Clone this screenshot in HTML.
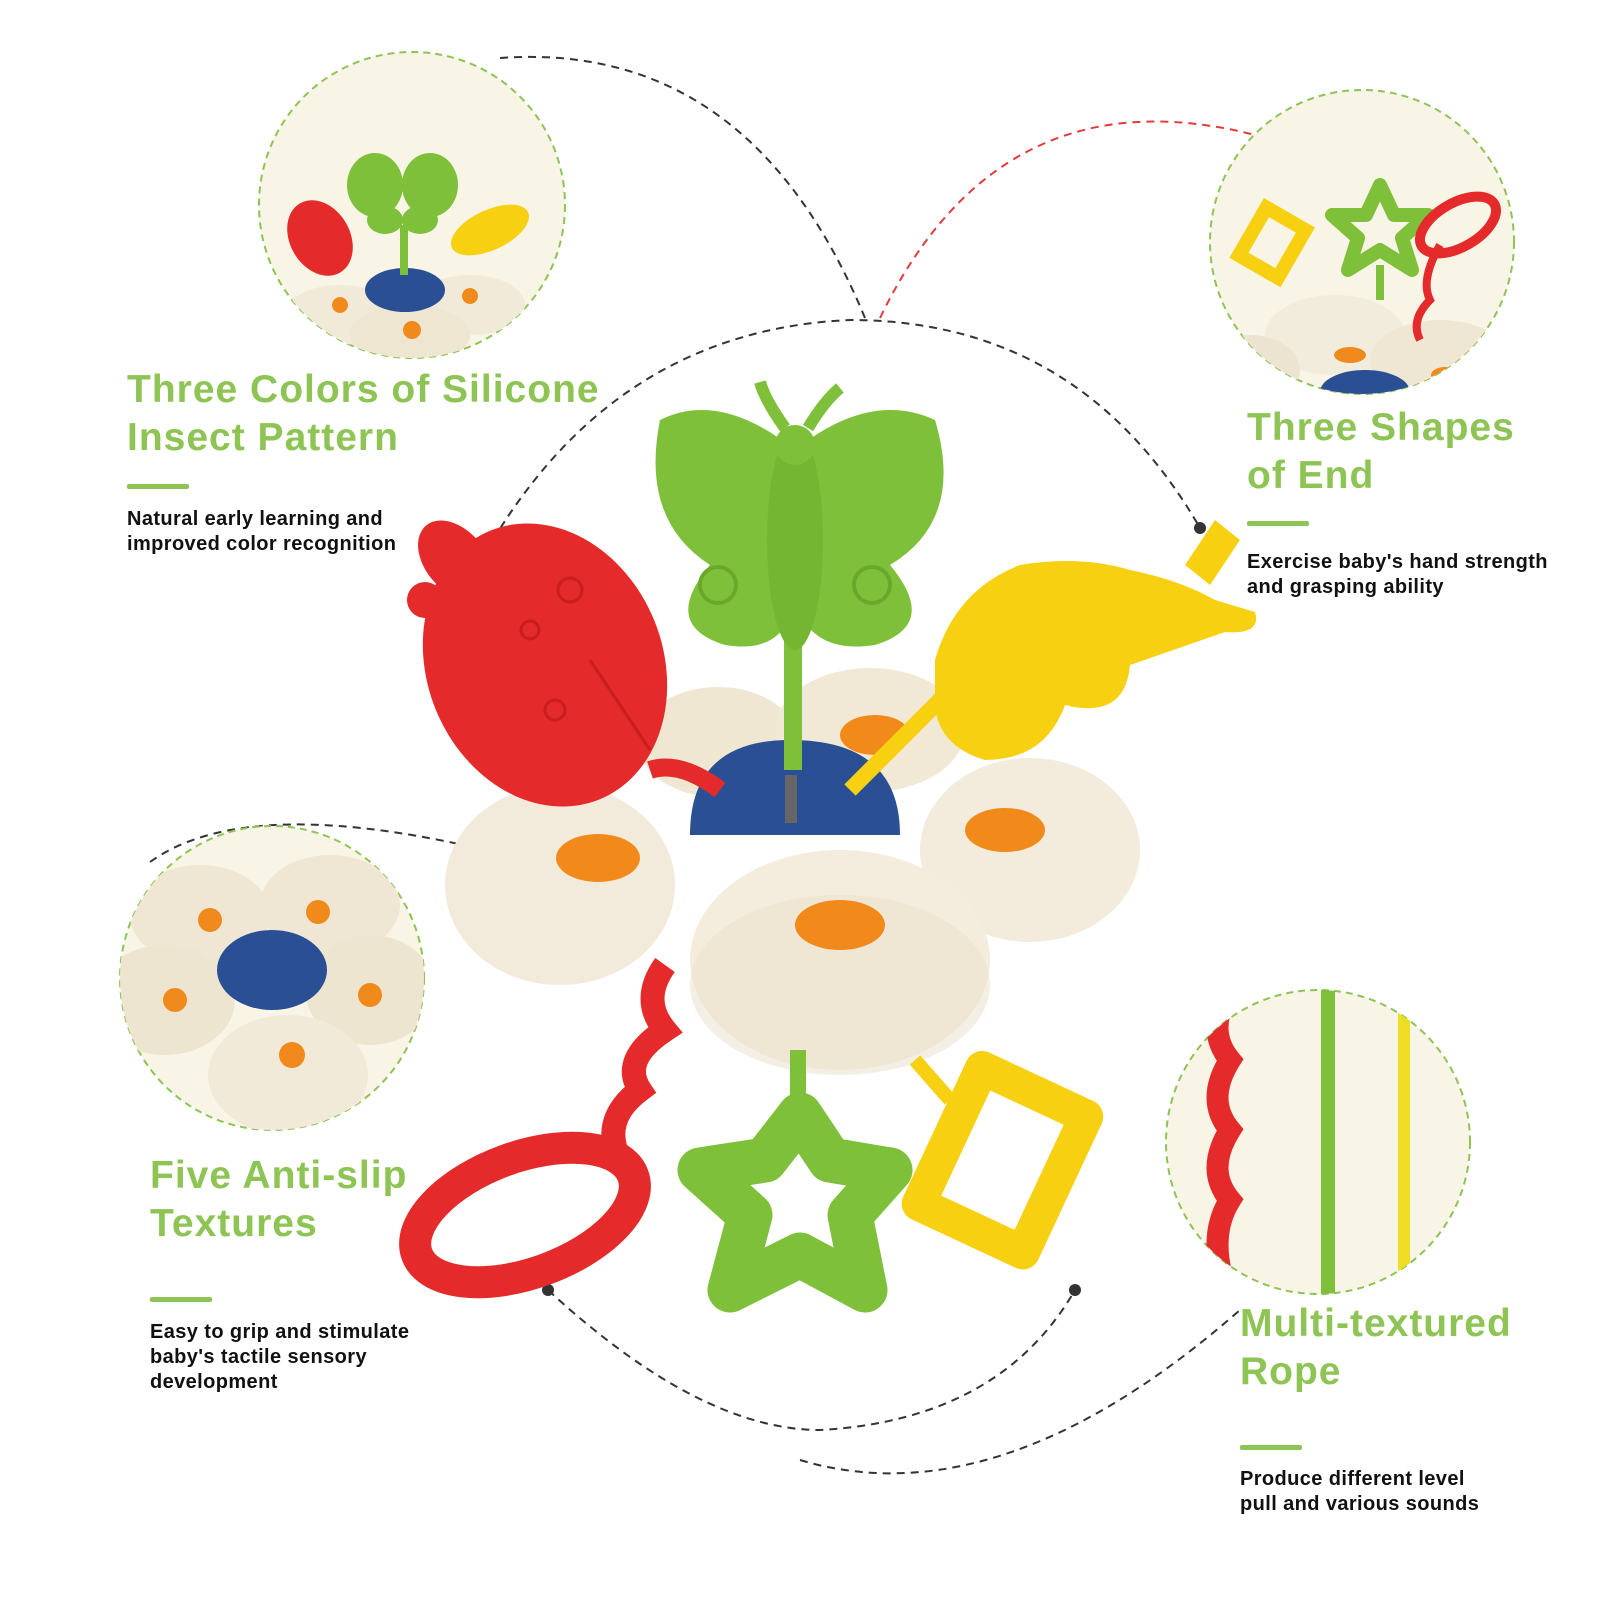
<!DOCTYPE html>
<html><head><meta charset="utf-8"><style>
body{margin:0;background:#fff}
.w{position:relative;width:1600px;height:1600px;overflow:hidden;font-family:"Liberation Sans",sans-serif}
.h{position:absolute;color:#8dc454;font-weight:bold;font-size:39px;line-height:48px;letter-spacing:1px}
.b{position:absolute;width:62px;height:5px;background:#8dc454;border-radius:2px}
.t{position:absolute;color:#111;font-size:20px;line-height:25px;font-weight:bold;letter-spacing:0.4px}
svg{position:absolute;left:0;top:0}
</style></head><body><div class="w">
<svg width="1600" height="1600" viewBox="0 0 1600 1600">
<defs>
<clipPath id="c1"><circle cx="412" cy="205" r="153"/></clipPath>
<clipPath id="c2"><circle cx="1362" cy="242" r="152"/></clipPath>
<clipPath id="c3"><circle cx="272" cy="978" r="152"/></clipPath>
<clipPath id="c4"><circle cx="1318" cy="1142" r="152"/></clipPath>
</defs>
<g fill="none" stroke="#333" stroke-width="2" stroke-dasharray="8 6">
<path d="M500 58 Q750 40 865 318"/>
<path d="M493 540 Q620 330 850 320 Q1080 320 1200 528"/>
<path d="M150 862 Q250 790 510 856"/>
<path d="M548 1290 Q700 1430 820 1430 Q1000 1420 1075 1290"/>
<path d="M800 1460 Q1000 1520 1240 1310"/>
</g>
<path d="M880 318 Q1000 70 1255 135" fill="none" stroke="#e23b3b" stroke-width="2" stroke-dasharray="8 6"/>
<g fill="#333"><circle cx="493" cy="540" r="6"/><circle cx="1200" cy="528" r="6"/><circle cx="548" cy="1290" r="6"/><circle cx="1075" cy="1290" r="6"/></g>
<g stroke="#8dc454" stroke-width="2" stroke-dasharray="7 5" fill="#f8f4e6">
<circle cx="412" cy="205" r="153"/><circle cx="1362" cy="242" r="152"/><circle cx="272" cy="978" r="152"/><circle cx="1318" cy="1142" r="152"/>
</g>
<g clip-path="url(#c1)">
<ellipse cx="340" cy="315" rx="55" ry="30" fill="#f1ead8"/><ellipse cx="470" cy="305" rx="55" ry="30" fill="#f1ead8"/><ellipse cx="410" cy="335" rx="60" ry="30" fill="#efe6d2"/>
<ellipse cx="405" cy="290" rx="40" ry="22" fill="#2b4f95"/>
<circle cx="340" cy="305" r="8" fill="#f08a1c"/><circle cx="470" cy="296" r="8" fill="#f08a1c"/><circle cx="412" cy="330" r="9" fill="#f08a1c"/>
<rect x="400" y="225" width="8" height="50" fill="#7fc03a"/>
<ellipse cx="375" cy="185" rx="28" ry="32" fill="#7fc03a"/><ellipse cx="430" cy="185" rx="28" ry="32" fill="#7fc03a"/><ellipse cx="385" cy="220" rx="18" ry="14" fill="#7fc03a"/><ellipse cx="420" cy="220" rx="18" ry="14" fill="#7fc03a"/>
<ellipse cx="320" cy="238" rx="30" ry="40" transform="rotate(-30 320 238)" fill="#e42a2a"/>
<ellipse cx="490" cy="230" rx="42" ry="20" transform="rotate(-25 490 230)" fill="#f7d012"/>
</g>
<g clip-path="url(#c2)">
<ellipse cx="1335" cy="335" rx="70" ry="40" fill="#f2ecdc"/><ellipse cx="1440" cy="360" rx="70" ry="40" fill="#efe7d4"/><ellipse cx="1250" cy="370" rx="50" ry="35" fill="#ece4d0"/>
<ellipse cx="1365" cy="392" rx="45" ry="22" fill="#2b4f95"/>
<ellipse cx="1350" cy="355" rx="16" ry="8" fill="#f08a1c"/><ellipse cx="1445" cy="375" rx="14" ry="8" fill="#f08a1c"/>
<rect x="1376" y="265" width="8" height="35" fill="#7fc03a"/>
<polygon points="1380,185 1394,215 1428,215 1402,238 1412,270 1380,250 1348,270 1358,238 1332,215 1366,215" fill="none" stroke="#7fc03a" stroke-width="14" stroke-linejoin="round"/>
<rect x="1250" y="215" width="45" height="55" transform="rotate(30 1272 242)" fill="none" stroke="#f7d012" stroke-width="14"/>
<ellipse cx="1458" cy="225" rx="42" ry="22" transform="rotate(-30 1458 225)" fill="none" stroke="#e42a2a" stroke-width="10"/>
<path d="M1440 245 Q1420 280 1430 300 Q1410 320 1420 340" stroke="#e42a2a" stroke-width="8" fill="none"/>
</g>
<g clip-path="url(#c3)">
<ellipse cx="200" cy="915" rx="70" ry="50" fill="#efe7d4"/><ellipse cx="330" cy="905" rx="70" ry="50" fill="#efe7d4"/><ellipse cx="165" cy="1000" rx="70" ry="55" fill="#eee5d0"/><ellipse cx="370" cy="990" rx="65" ry="55" fill="#eee5d0"/><ellipse cx="288" cy="1075" rx="80" ry="60" fill="#f2ead8"/>
<ellipse cx="272" cy="970" rx="55" ry="40" fill="#2b4f95"/>
<g fill="#f08a1c"><circle cx="210" cy="920" r="12"/><circle cx="318" cy="912" r="12"/><circle cx="175" cy="1000" r="12"/><circle cx="370" cy="995" r="12"/><circle cx="292" cy="1055" r="13"/></g>
</g>
<g clip-path="url(#c4)">
<path d="M1230 990 Q1205 1030 1230 1060 Q1205 1100 1230 1130 Q1205 1170 1230 1200 Q1205 1240 1230 1300" stroke="#e42a2a" stroke-width="22" fill="none"/>
<rect x="1321" y="990" width="14" height="310" fill="#7fc03a"/>
<rect x="1398" y="990" width="12" height="310" fill="#eedd22"/>
</g>
<ellipse cx="718" cy="742" rx="80" ry="55" fill="#efe7d2"/>
<ellipse cx="870" cy="730" rx="95" ry="62" fill="#f1e9d5"/>
<ellipse cx="1030" cy="850" rx="110" ry="92" fill="#f3ecdc"/>
<ellipse cx="560" cy="885" rx="115" ry="100" fill="#f2eada"/>
<ellipse cx="840" cy="960" rx="150" ry="110" fill="#f4eddd"/>
<ellipse cx="840" cy="985" rx="150" ry="90" fill="#e9e0c9" opacity=".5"/>
<g fill="#f18a1b"><ellipse cx="598" cy="858" rx="42" ry="24"/><ellipse cx="1005" cy="830" rx="40" ry="22"/><ellipse cx="840" cy="925" rx="45" ry="25"/><ellipse cx="875" cy="735" rx="35" ry="20"/></g>
<path d="M690 835 Q690 740 790 740 Q900 740 900 835 Z" fill="#2b4f95"/>
<rect x="785" y="775" width="12" height="48" fill="#666"/>
<path d="M665 965 Q640 1000 665 1030 Q620 1060 640 1090 Q600 1120 620 1160" stroke="#e42a2a" stroke-width="24" fill="none"/>
<ellipse cx="525" cy="1215" rx="115" ry="58" transform="rotate(-20 525 1215)" fill="none" stroke="#e42a2a" stroke-width="32"/>
<rect x="790" y="1050" width="16" height="90" fill="#7fc03a"/>
<polygon points="800,1115 830,1160 890,1170 850,1215 865,1290 800,1255 730,1290 750,1215 700,1170 765,1160" fill="none" stroke="#7fc03a" stroke-width="45" stroke-linejoin="round"/>
<path d="M915 1060 L950 1100" stroke="#f7d012" stroke-width="14"/>
<rect x="945" y="1085" width="115" height="150" transform="rotate(25 1002 1160)" fill="none" stroke="#f7d012" stroke-width="34" stroke-linejoin="round"/>
<path d="M720 790 Q680 760 650 770" stroke="#e42a2a" stroke-width="18" fill="none"/>
<ellipse cx="545" cy="665" rx="118" ry="145" transform="rotate(-22 545 665)" fill="#e42a2a"/>
<ellipse cx="455" cy="560" rx="30" ry="45" transform="rotate(-40 455 560)" fill="#e42a2a"/>
<circle cx="425" cy="600" r="18" fill="#e42a2a"/>
<g fill="none" stroke="#c81e1e" stroke-width="3"><circle cx="570" cy="590" r="12"/><circle cx="530" cy="630" r="9"/><circle cx="555" cy="710" r="10"/><path d="M590 660 L650 750"/></g>
<rect x="784" y="640" width="18" height="130" fill="#7fc03a"/>
<path d="M795 450 Q720 390 660 420 Q640 520 710 565 Q660 625 725 645 Q785 655 795 600 Z" fill="#7fc03a"/>
<path d="M795 450 Q870 390 935 420 Q965 520 890 565 Q940 625 875 645 Q810 655 795 600 Z" fill="#7fc03a"/>
<ellipse cx="795" cy="540" rx="28" ry="110" fill="#74b632"/>
<circle cx="795" cy="445" r="20" fill="#7fc03a"/>
<path d="M785 428 Q765 400 760 382 M808 428 Q825 400 840 388" stroke="#7fc03a" stroke-width="12" fill="none"/>
<g fill="none" stroke="#6aa82c" stroke-width="4"><circle cx="718" cy="585" r="18"/><circle cx="872" cy="585" r="18"/></g>
<path d="M850 790 L960 680" stroke="#f7d012" stroke-width="16"/>
<path d="M935 660 Q955 590 1020 565 Q1080 555 1130 570 Q1180 580 1215 600 L1255 612 Q1262 635 1225 632 L1130 665 Q1125 720 1065 705 Q1045 760 985 760 Q935 745 935 700 Z" fill="#f7d012"/>
<path d="M1185 565 L1215 520 L1240 540 L1210 585 Z" fill="#f7d012"/>
</svg>
<div class="h" style="left:127px;top:366px">Three Colors of Silicone<br>Insect Pattern</div>
<div class="b" style="left:127px;top:484px"></div>
<div class="t" style="left:127px;top:507px">Natural early learning and<br>improved color recognition</div>
<div class="h" style="left:1247px;top:404px">Three Shapes<br>of End</div>
<div class="b" style="left:1247px;top:521px"></div>
<div class="t" style="left:1247px;top:550px">Exercise baby's hand strength<br>and grasping ability</div>
<div class="h" style="left:150px;top:1152px">Five Anti-slip<br>Textures</div>
<div class="b" style="left:150px;top:1297px"></div>
<div class="t" style="left:150px;top:1320px">Easy to grip and stimulate<br>baby's tactile sensory<br>development</div>
<div class="h" style="left:1240px;top:1300px">Multi-textured<br>Rope</div>
<div class="b" style="left:1240px;top:1445px"></div>
<div class="t" style="left:1240px;top:1467px">Produce different level<br>pull and various sounds</div>
</div></body></html>
